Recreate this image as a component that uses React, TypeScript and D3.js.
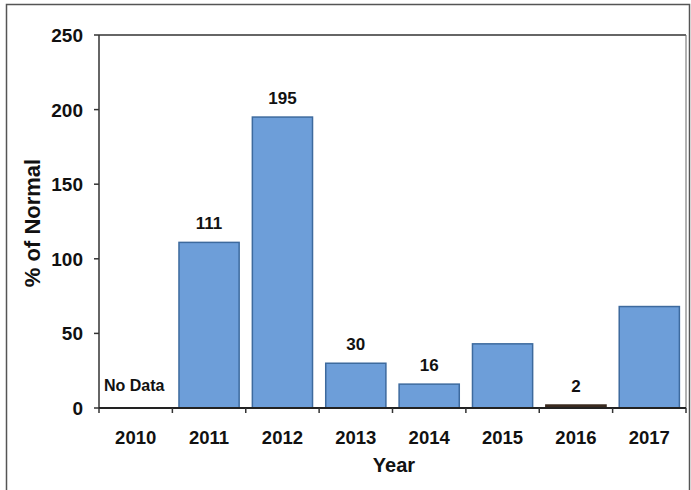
import React from "react";
import * as d3 from "d3";

const years = ["2010", "2011", "2012", "2013", "2014", "2015", "2016", "2017"];
const values: (number | null)[] = [null, 111, 195, 30, 16, 43, 2, 68];
const valueLabels = ["", "111", "195", "30", "16", "", "2", ""];
const yTicks = [0, 50, 100, 150, 200, 250];

const W = 691;
const H = 490;
const left = 99;
const right = 686;
const top = 35;
const bottom = 408;
const font = "'Liberation Sans', Arial, Helvetica, sans-serif";

export default function App() {
  const x = d3.scaleBand<string>().domain(years).range([left, right]).paddingInner(0.18).paddingOuter(0.09);
  const band = d3.scaleBand<string>().domain(years).range([left, right]).padding(0);
  const y = d3.scaleLinear().domain([0, 250]).range([bottom, top]);

  return (
    <div style={{ position: "absolute", left: 0, top: 0 }}>
      <svg width={W} height={H} style={{ display: "block", background: "#fff" }} fontFamily={font}>
        <rect x={6.5} y={4.5} width={683} height={495} fill="none" stroke="#555" strokeWidth={1.5} />
        {/* plot frame */}
        <line x1={left} x2={right} y1={top} y2={top} stroke="#333" strokeWidth={1.5} />
        <line x1={right} x2={right} y1={top} y2={bottom} stroke="#666" strokeWidth={1} />
        {/* bars */}
        {years.map((yr, i) => {
          const v = values[i];
          if (v === null) return null;
          return (
            <rect
              key={yr}
              x={x(yr)}
              y={y(v)}
              width={x.bandwidth()}
              height={bottom - y(v)}
              fill={v < 5 ? "#3a2a20" : "#6d9ed9"}
              stroke={v < 5 ? "#3a2a20" : "#3d6a9e"}
              strokeWidth={1.5}
            />
          );
        })}
        {/* value labels */}
        {years.map((yr, i) => {
          const v = values[i];
          if (v === null || !valueLabels[i]) return null;
          return (
            <text
              key={"l" + yr}
              x={x(yr)! + x.bandwidth() / 2}
              y={y(v) - 13}
              textAnchor="middle"
              fontSize={17}
              fontWeight="bold"
              fill="#111"
            >
              {valueLabels[i]}
            </text>
          );
        })}
        <text x={104} y={391} fontSize={16} fontWeight="bold" fill="#111">
          No Data
        </text>
        {/* y axis */}
        <line x1={left} x2={left} y1={top} y2={bottom} stroke="#333" strokeWidth={1.5} />
        {yTicks.map((t) => (
          <g key={t}>
            <line x1={left - 5} x2={left} y1={y(t)} y2={y(t)} stroke="#333" strokeWidth={1.5} />
            <text x={83} y={y(t) + 7} textAnchor="end" fontSize={19} fontWeight="bold" fill="#111">
              {t}
            </text>
          </g>
        ))}
        {/* x axis */}
        <line x1={left} x2={right} y1={bottom} y2={bottom} stroke="#222" strokeWidth={2} />
        {years.map((yr) => (
          <line
            key={"t" + yr}
            x1={band(yr)!}
            x2={band(yr)!}
            y1={bottom}
            y2={bottom + 5}
            stroke="#333"
            strokeWidth={1.5}
          />
        ))}
        <line x1={right} x2={right} y1={bottom} y2={bottom + 5} stroke="#333" strokeWidth={1.5} />
        {years.map((yr) => (
          <text
            key={"x" + yr}
            x={band(yr)! + band.bandwidth() / 2}
            y={444}
            textAnchor="middle"
            fontSize={18.5}
            fontWeight="bold"
            fill="#111"
          >
            {yr}
          </text>
        ))}
        <text x={394} y={472} textAnchor="middle" fontSize={20} fontWeight="bold" fill="#111">
          Year
        </text>
        <text
          transform="translate(40,223) rotate(-90)"
          textAnchor="middle"
          fontSize={22}
          fontWeight="bold"
          fill="#111"
        >
          % of Normal
        </text>
      </svg>
    </div>
  );
}
